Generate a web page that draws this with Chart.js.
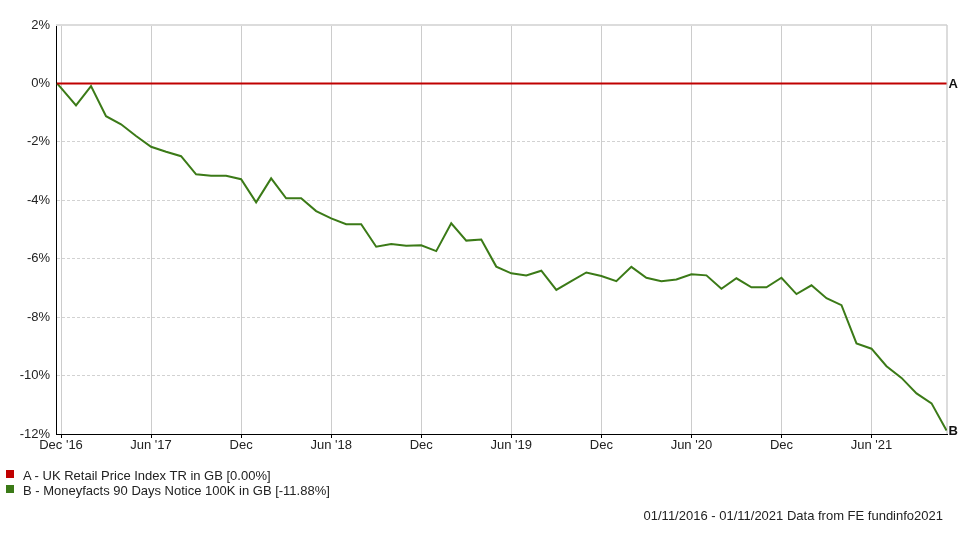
<!DOCTYPE html>
<html>
<head>
<meta charset="utf-8">
<script src="https://cdn.jsdelivr.net/npm/chart.js@4/dist/chart.umd.min.js"></script>
<style>
  body { margin: 0; background: #fff; font-family: "Liberation Sans", Arial, sans-serif; font-size: 13px; color: #222; }
  #wrap { position: relative; width: 965px; height: 533px; }
  #legend { position: absolute; left: 6px; top: 468px; line-height: 15px; }
  #legend div { white-space: nowrap; }
  #legend span { display: inline-block; width: 8px; height: 8px; margin-right: 9px; vertical-align: 2px; }
  #footer { position: absolute; right: 22px; top: 508px; line-height: 15px; white-space: nowrap; }
</style>
</head>
<body>
<div id="wrap">
  <canvas id="myChart" width="965" height="533"></canvas>
  <div id="legend"></div>
  <div id="footer">01/11/2016 - 01/11/2021 Data from FE fundinfo2021</div>
</div>
<script>

// monthly observations, 01/11/2016 .. 01/11/2021
var months = [
    'Nov 16',
    'Dec 16', 'Jan 17', 'Feb 17', 'Mar 17', 'Apr 17', 'May 17', 'Jun 17', 'Jul 17', 'Aug 17', 'Sep 17', 'Oct 17', 'Nov 17',
    'Dec 17', 'Jan 18', 'Feb 18', 'Mar 18', 'Apr 18', 'May 18', 'Jun 18', 'Jul 18', 'Aug 18', 'Sep 18', 'Oct 18', 'Nov 18',
    'Dec 18', 'Jan 19', 'Feb 19', 'Mar 19', 'Apr 19', 'May 19', 'Jun 19', 'Jul 19', 'Aug 19', 'Sep 19', 'Oct 19', 'Nov 19',
    'Dec 19', 'Jan 20', 'Feb 20', 'Mar 20', 'Apr 20', 'May 20', 'Jun 20', 'Jul 20', 'Aug 20', 'Sep 20', 'Oct 20', 'Nov 20',
    'Dec 20', 'Jan 21', 'Feb 21', 'Mar 21', 'Apr 21', 'May 21', 'Jun 21', 'Jul 21', 'Aug 21', 'Sep 21', 'Oct 21', 'Nov 21'
];

var rpiValues = [
    0,
    0, 0, 0, 0, 0, 0, 0, 0, 0, 0, 0, 0,
    0, 0, 0, 0, 0, 0, 0, 0, 0, 0, 0, 0,
    0, 0, 0, 0, 0, 0, 0, 0, 0, 0, 0, 0,
    0, 0, 0, 0, 0, 0, 0, 0, 0, 0, 0, 0,
    0, 0, 0, 0, 0, 0, 0, 0, 0, 0, 0, 0
];

var moneyfactsValues = [
    0,
    -0.15, -0.75, -0.09, -1.12, -1.40, -1.80, -2.17, -2.34, -2.49, -3.11, -3.16, -3.16,
    -3.28, -4.07, -3.25, -3.93, -3.93, -4.37, -4.62, -4.82, -4.82, -5.59, -5.50, -5.56,
    -5.54, -5.74, -4.79, -5.38, -5.34, -6.27, -6.50, -6.57, -6.41, -7.07, -6.77, -6.47,
    -6.59, -6.77, -6.28, -6.65, -6.77, -6.71, -6.53, -6.57, -7.03, -6.67, -6.98, -6.98,
    -6.65, -7.21, -6.91, -7.35, -7.59, -8.90, -9.08, -9.68, -10.08, -10.61, -10.95, -11.88
];

var seriesNames = ['UK Retail Price Index TR in GB', 'Moneyfacts 90 Days Notice 100K in GB'];
var seriesTags = ['A', 'B'];
var seriesColors = ['#c00000', '#3b7a17'];

// x ticks in months counted from Dec '16
var tickMonths = [0, 6, 12, 18, 24, 30, 36, 42, 48, 54];
var tickLabels = ["Dec '16", "Jun '17", 'Dec', "Jun '18", 'Dec', "Jun '19", 'Dec', "Jun '20", 'Dec', "Jun '21"];

var yTicks = [2, 0, -2, -4, -6, -8, -10, -12];

// the first observation sits slightly before the Dec '16 tick
var startOffset = -0.27;

function toPoints(values) {
    var pts = [];
    for (var i = 0; i < values.length; i++) {
        pts.push({ x: i === 0 ? startOffset : i - 1, y: values[i] });
    }
    return pts;
}

var frame = {
    id: 'frame',
    beforeDatasetsDraw: function (chart) {
        var a = chart.chartArea, ctx = chart.ctx;
        ctx.save();
        ctx.strokeStyle = '#dcdcdc';
        ctx.lineWidth = 2;
        ctx.beginPath();
        ctx.moveTo(a.left, a.top);
        ctx.lineTo(a.right, a.top);
        ctx.stroke();
        ctx.lineWidth = 1.5;
        ctx.strokeStyle = '#d0d0d0';
        ctx.beginPath();
        ctx.moveTo(a.right, a.top);
        ctx.lineTo(a.right, a.bottom);
        ctx.stroke();
        ctx.restore();
    },
    afterDatasetsDraw: function (chart) {
        var ctx = chart.ctx;
        ctx.save();
        ctx.font = 'bold 13px "Liberation Sans", Arial, sans-serif';
        ctx.fillStyle = '#111';
        ctx.textBaseline = 'middle';
        chart.data.datasets.forEach(function (ds, i) {
            var meta = chart.getDatasetMeta(i);
            var last = meta.data[meta.data.length - 1];
            ctx.fillText(seriesTags[i], last.x + 2, last.y + 1);
        });
        ctx.restore();
    }
};

Chart.defaults.font.family = '"Liberation Sans", Arial, sans-serif';
Chart.defaults.font.size = 13;
Chart.defaults.color = '#222';

var ctx = document.getElementById('myChart').getContext('2d');

window.myChart = new Chart(ctx, {
    type: 'line',
    data: {
        datasets: [{
            label: seriesTags[0] + ' - ' + seriesNames[0],
            data: toPoints(rpiValues),
            borderColor: seriesColors[0],
            borderWidth: 2,
            pointRadius: 0,
            tension: 0
        }, {
            label: seriesTags[1] + ' - ' + seriesNames[1],
            data: toPoints(moneyfactsValues),
            borderColor: seriesColors[1],
            borderWidth: 2,
            pointRadius: 0,
            tension: 0
        }]
    },
    options: {
        responsive: false,
        animation: false,
        layout: { padding: { top: 25, right: 18, bottom: 79, left: 0 } },
        plugins: {
            legend: { display: false },
            tooltip: { enabled: false }
        },
        scales: {
            x: {
                type: 'linear',
                min: -1 / 3,
                max: 59.03,
                afterBuildTicks: function (scale) {
                    scale.ticks = tickMonths.map(function (v) { return { value: v }; });
                },
                afterFit: function (scale) { scale.height = 20; },
                ticks: {
                    autoSkip: false,
                    maxRotation: 0,
                    padding: 0,
                    callback: function (value) {
                        var k = tickMonths.indexOf(value);
                        return k >= 0 ? tickLabels[k] : '';
                    }
                },
                grid: { color: '#cccccc', lineWidth: 1, tickLength: 4, tickColor: '#000' },
                border: { color: '#000', width: 1 }
            },
            y: {
                min: -12,
                max: 2,
                afterBuildTicks: function (scale) {
                    scale.ticks = yTicks.map(function (v) { return { value: v }; });
                },
                afterFit: function (scale) { scale.width = 56; },
                ticks: {
                    padding: 6,
                    callback: function (value) { return value + '%'; }
                },
                grid: { color: '#d2d2d2', lineWidth: 1, drawTicks: false },
                border: { color: '#000', width: 1, dash: [3, 2] }
            }
        }
    },
    plugins: [frame]
});

var html = '';
for (var i = 0; i < seriesNames.length; i++) {
    var last = i === 0 ? rpiValues[rpiValues.length - 1] : moneyfactsValues[moneyfactsValues.length - 1];
    html += '<div><span style="background:' + seriesColors[i] + '"></span>' +
        seriesTags[i] + ' - ' + seriesNames[i] + ' [' + last.toFixed(2) + '%]</div>';
}
document.getElementById('legend').innerHTML = html;

</script>
</body>
</html>
